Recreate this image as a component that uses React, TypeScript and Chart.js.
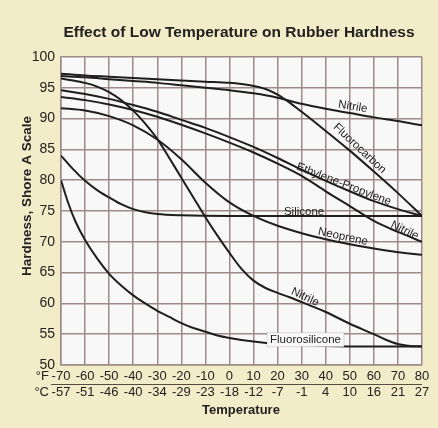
import React, { useEffect, useRef } from "react";
import { Chart, registerables } from "chart.js";

Chart.register(...registerables);

// ---------- Axis ticks ----------
const fahrenheitTicks = [-70, -60, -50, -40, -30, -20, -10, 0, 10, 20, 30, 40, 50, 60, 70, 80];
const celsiusTicks = ["-57", "-51", "-46", "-40", "-34", "-29", "-23", "-18", "-12", "-7", "-1", "4", "10", "16", "21", "27"];
const hardnessTicks = [50, 55, 60, 65, 70, 75, 80, 85, 90, 95, 100];

// ---------- Series (temperature °F, Shore A hardness) ----------
const fluorocarbonTemp = [-70, -60, -50, -40, -30, -20, -10, 0, 5, 10, 15, 20, 25, 30, 40, 50, 60, 70, 80];
const fluorocarbonHardness = [97.3, 97.0, 96.8, 96.6, 96.4, 96.2, 96.0, 95.8, 95.6, 95.3, 94.8, 93.9, 92.6, 91.1, 88.0, 84.8, 81.4, 77.9, 74.2];

const nitrileTopTemp = [-70, -60, -50, -40, -30, -20, -10, 0, 10, 20, 30, 40, 50, 60, 70, 80];
const nitrileTopHardness = [96.9, 96.7, 96.4, 96.1, 95.8, 95.4, 95.0, 94.6, 94.1, 93.4, 92.4, 91.6, 90.9, 90.2, 89.6, 88.9];

const ethylenePropyleneTemp = [-70, -60, -50, -40, -30, -20, -10, 0, 10, 20, 30, 40, 50, 60, 70, 80];
const ethylenePropyleneHardness = [94.6, 94.0, 93.2, 92.2, 91.1, 89.8, 88.5, 87.0, 85.4, 83.6, 81.7, 79.9, 78.2, 76.6, 75.3, 74.2];

const nitrileMidTemp = [-70, -60, -50, -40, -30, -20, -10, 0, 10, 20, 30, 40, 50, 60, 70, 80];
const nitrileMidHardness = [93.5, 93.0, 92.3, 91.4, 90.3, 89.0, 87.6, 86.1, 84.5, 82.7, 80.7, 78.2, 75.8, 73.4, 71.6, 70.0];

const neopreneTemp = [-70, -60, -50, -40, -30, -20, -10, 0, 10, 20, 30, 40, 50, 60, 70, 80];
const neopreneHardness = [91.7, 91.3, 90.4, 88.9, 86.6, 83.4, 79.6, 76.4, 74.2, 72.6, 71.4, 70.4, 69.6, 68.9, 68.3, 67.9];

const siliconeTemp = [-70, -65, -60, -55, -50, -45, -40, -35, -30, -20, 0, 80];
const siliconeHardness = [84.0, 81.8, 79.9, 78.4, 77.2, 76.1, 75.3, 74.8, 74.5, 74.3, 74.2, 74.2];

const nitrileLowTemp = [-70, -65, -60, -55, -50, -45, -40, -35, -30, -25, -20, -15, -10, -5, 0, 5, 10, 15, 20, 25, 30, 40, 50, 60, 65, 70, 75, 80];
const nitrileLowHardness = [96.5, 96.2, 95.8, 95.2, 94.3, 93.0, 91.3, 89.2, 86.7, 83.6, 80.4, 77.2, 74.0, 71.0, 68.2, 65.6, 63.7, 62.5, 61.7, 61.0, 60.2, 58.6, 56.7, 55.0, 54.1, 53.4, 53.1, 53.0];

const fluorosiliconeTemp = [-70, -67, -64, -60, -55, -50, -45, -40, -35, -30, -25, -20, -15, -10, -5, 0, 10, 20, 40, 60, 80];
const fluorosiliconeHardness = [80.0, 76.3, 73.3, 70.3, 67.3, 64.8, 62.9, 61.3, 60.0, 58.8, 57.8, 56.8, 56.0, 55.4, 54.8, 54.4, 53.8, 53.4, 53.1, 53.0, 53.0];

const seriesList = [
  { name: "Fluorocarbon", temps: fluorocarbonTemp, values: fluorocarbonHardness },
  { name: "Nitrile", temps: nitrileTopTemp, values: nitrileTopHardness },
  { name: "Ethylene-Propylene", temps: ethylenePropyleneTemp, values: ethylenePropyleneHardness },
  { name: "Nitrile", temps: nitrileMidTemp, values: nitrileMidHardness },
  { name: "Neoprene", temps: neopreneTemp, values: neopreneHardness },
  { name: "Silicone", temps: siliconeTemp, values: siliconeHardness },
  { name: "Nitrile", temps: nitrileLowTemp, values: nitrileLowHardness },
  { name: "Fluorosilicone", temps: fluorosiliconeTemp, values: fluorosiliconeHardness },
];

// ---------- Curve labels (placed in data coordinates) ----------
const curveLabels = [
  { text: "Nitrile", temp: 51.3, hardness: 92.0, angle: 9, box: false },
  { text: "Fluorocarbon", temp: 54.2, hardness: 85.2, angle: 43, box: false },
  { text: "Ethylene-Propylene", temp: 47.6, hardness: 79.4, angle: 21, box: false },
  { text: "Silicone", temp: 31.0, hardness: 75.0, angle: 0, box: false },
  { text: "Nitrile", temp: 72.9, hardness: 71.9, angle: 26, box: false },
  { text: "Neoprene", temp: 47.2, hardness: 70.9, angle: 12, box: false },
  { text: "Nitrile", temp: 31.5, hardness: 61.1, angle: 25, box: false },
  { text: "Fluorosilicone", temp: 31.6, hardness: 54.1, angle: 0, box: true },
];

const PAGE_BG = "#f3ecc8";
const PLOT_BG = "#f9f8f9";
const GRID = "#9e8a8a";
const INK = "#222222";
const FONT = '"Liberation Sans", Arial, Helvetica, sans-serif';

const decorPlugin = {
  id: "decor",
  beforeDraw(chart: any) {
    const { ctx, width, height, chartArea } = chart;
    ctx.save();
    ctx.fillStyle = PAGE_BG;
    ctx.fillRect(0, 0, width, height);
    ctx.fillStyle = PLOT_BG;
    ctx.fillRect(chartArea.left, chartArea.top, chartArea.right - chartArea.left, chartArea.bottom - chartArea.top);
    ctx.restore();
  },
  afterDatasetsDraw(chart: any) {
    const { ctx } = chart;
    const xs = chart.scales.x;
    const ys = chart.scales.y;
    ctx.save();
    ctx.font = "11.5px " + FONT;
    ctx.textAlign = "center";
    ctx.textBaseline = "middle";
    for (const l of curveLabels) {
      const px = xs.getPixelForValue(l.temp);
      const py = ys.getPixelForValue(l.hardness);
      ctx.save();
      ctx.translate(px, py);
      ctx.rotate((l.angle * Math.PI) / 180);
      if (l.box) {
        const w = ctx.measureText(l.text).width;
        ctx.fillStyle = PLOT_BG;
        ctx.fillRect(-w / 2 - 3, -7, w + 6, 14);
        ctx.strokeStyle = "rgba(120,120,120,0.3)";
        ctx.lineWidth = 0.8;
        ctx.strokeRect(-w / 2 - 3, -7, w + 6, 14);
      }
      ctx.fillStyle = INK;
      ctx.fillText(l.text, 0, 0.5);
      ctx.restore();
    }
    ctx.restore();
  },
  afterDraw(chart: any) {
    const { ctx, chartArea } = chart;
    ctx.save();
    ctx.fillStyle = INK;
    // Title
    ctx.font = "bold 15.5px " + FONT;
    ctx.textAlign = "center";
    ctx.textBaseline = "alphabetic";
    ctx.fillText("Effect of Low Temperature on Rubber Hardness", 239, 37);
    // Y axis title
    ctx.save();
    ctx.translate(27, 196);
    ctx.rotate(-Math.PI / 2);
    ctx.font = "bold 13.5px " + FONT;
    ctx.textBaseline = "middle";
    ctx.fillText("Hardness, Shore A Scale", 0, 0);
    ctx.restore();
    // X axis title
    ctx.font = "bold 13px " + FONT;
    ctx.textBaseline = "middle";
    ctx.fillText("Temperature", 241, 410);
    // Unit labels
    ctx.font = "13px " + FONT;
    ctx.textAlign = "right";
    ctx.fillText("°F", 49, chartArea.bottom + 11);
    ctx.fillText("°C", 49, chartArea.bottom + 27);
    // separator
    ctx.strokeStyle = "#5a4a44";
    ctx.lineWidth = 1.2;
    ctx.beginPath();
    ctx.moveTo(51, chartArea.bottom + 19.5);
    ctx.lineTo(chartArea.right, chartArea.bottom + 19.5);
    ctx.stroke();
    ctx.restore();
  },
};

export default function App() {
  const canvasRef = useRef<HTMLCanvasElement | null>(null);

  useEffect(() => {
    const canvas = canvasRef.current;
    if (!canvas) return;
    const datasets = seriesList.map((s) => ({
      label: s.name,
      data: s.temps.map((t, i) => ({ x: t, y: s.values[i] })),
      borderColor: "#1e1e1e",
      borderWidth: 2,
      pointRadius: 0,
      fill: false,
      cubicInterpolationMode: "monotone" as const,
      tension: 0.4,
    }));

    const chart = new Chart(canvas, {
      type: "line",
      data: { datasets },
      options: {
        responsive: false,
        animation: false,
        devicePixelRatio: 1,
        layout: { padding: { top: 57, right: 16, bottom: 0, left: 0 } },
        plugins: {
          legend: { display: false },
          tooltip: { enabled: false },
          title: { display: false },
        },
        scales: {
          x: {
            type: "linear",
            min: fahrenheitTicks[0],
            max: fahrenheitTicks[fahrenheitTicks.length - 1],
            afterFit: (s: any) => {
              s.height = 63;
            },
            afterBuildTicks: (s: any) => {
              s.ticks = fahrenheitTicks.map((v) => ({ value: v }));
            },
            ticks: {
              autoSkip: false,
              maxRotation: 0,
              minRotation: 0,
              padding: 3,
              color: INK,
              font: { family: FONT, size: 13, lineHeight: 16 / 13 },
              callback: (v: any) => {
                const i = fahrenheitTicks.indexOf(Number(v));
                return i >= 0 ? [String(fahrenheitTicks[i]), celsiusTicks[i]] : "";
              },
            },
            grid: { color: GRID, lineWidth: 1.5, drawTicks: false },
            border: { color: GRID, width: 1.5 },
          },
          y: {
            type: "linear",
            min: hardnessTicks[0],
            max: hardnessTicks[hardnessTicks.length - 1],
            afterFit: (s: any) => {
              s.width = 61;
            },
            afterBuildTicks: (s: any) => {
              s.ticks = hardnessTicks.map((v) => ({ value: v }));
            },
            ticks: {
              padding: 6,
              color: INK,
              font: { family: FONT, size: 14 },
            },
            grid: { color: GRID, lineWidth: 1.5, drawTicks: false },
            border: { color: GRID, width: 1.5 },
          },
        },
      },
      plugins: [decorPlugin],
    });
    return () => chart.destroy();
  }, []);

  return (
    <div style={{ position: "fixed", left: 0, top: 0, width: 438, height: 428, background: PAGE_BG }}>
      <canvas ref={canvasRef} width={438} height={428} style={{ width: 438, height: 428, display: "block" }} />
    </div>
  );
}
